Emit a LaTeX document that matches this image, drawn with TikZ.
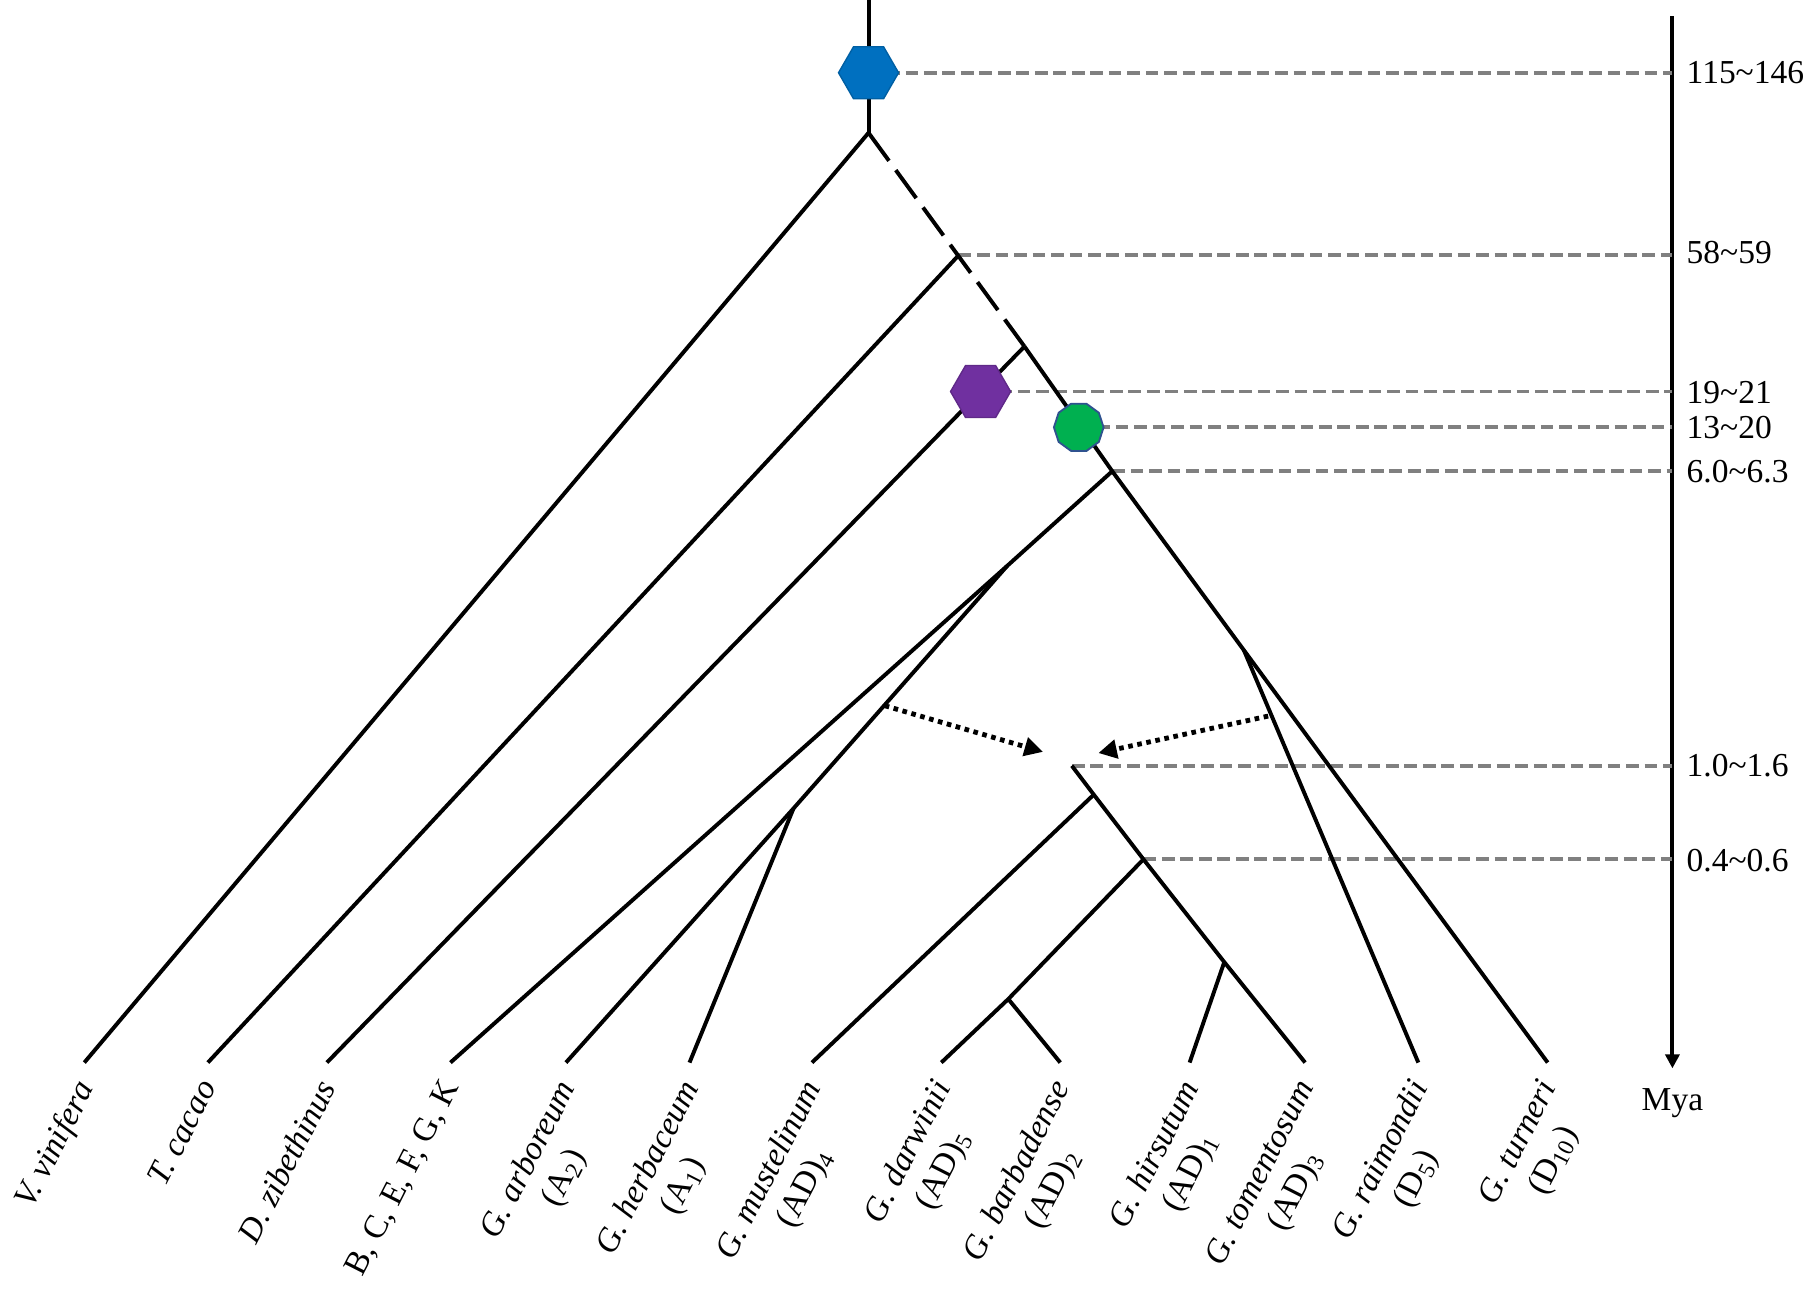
\documentclass[tikz,border=0pt]{standalone}
\usepackage{fontspec}
\setmainfont{Liberation Serif}
\usetikzlibrary{arrows.meta, shapes.geometric}
\definecolor{hexblue}{RGB}{0,112,192}
\definecolor{hexpurple}{RGB}{112,48,160}
\definecolor{dotgreen}{RGB}{0,176,80}
\definecolor{rimblue}{RGB}{47,82,143}
\definecolor{guidegray}{RGB}{128,128,128}

\tikzset{
    branch/.style={line width=1.7pt},
    stem/.style={branch, dash pattern=on 15pt off 5pt},
    guide/.style={guidegray, line width=1.6pt, dash pattern=on 5.5pt off 2.5pt},
    flow/.style={line width=2.1pt, dash pattern=on 2pt off 2pt, -{Triangle[length=8pt,width=8pt]}},
    tiplab/.style={rotate=63, anchor=north east, xshift=-6.5pt, yshift=2.5pt, inner sep=1pt, align=center},
    agelab/.style={anchor=west, inner sep=0pt},
    hexmark/.style={regular polygon, regular polygon sides=6, minimum size=26pt, inner sep=0pt, fill=#1, draw=#1!85!black, line width=0.6pt}
}

\begin{document}
\begin{tikzpicture}[x=0.5pt, y=-0.5pt, font=\fontsize{14.5}{17}\selectfont]
    \useasboundingbox (0,0) rectangle (1568,1122);

    % Inner nodes of the tree
    \coordinate (top) at (752,0);
    \coordinate (root) at (752,115);
    \coordinate (n1) at (830,221);
    \coordinate (n2) at (887,300);
    \coordinate (n3) at (963,408);
    \coordinate (nA) at (872,490);
    \coordinate (nA2) at (687,700);
    \coordinate (nD) at (1077,563);
    \coordinate (nAD) at (928,663);
    \coordinate (nM) at (947,688);
    \coordinate (nAD2) at (990,744);
    \coordinate (nDB) at (873,865);
    \coordinate (nHT) at (1060,833);

    % Tips
    \coordinate (vin) at (73,920);
    \coordinate (cac) at (180,920);
    \coordinate (zib) at (283,920);
    \coordinate (bce) at (390,920);
    \coordinate (arb) at (490,920);
    \coordinate (her) at (597,920);
    \coordinate (mus) at (703,920);
    \coordinate (dar) at (815,920);
    \coordinate (bar) at (918,920);
    \coordinate (hir) at (1030,920);
    \coordinate (tom) at (1130,920);
    \coordinate (rai) at (1228,920);
    \coordinate (tur) at (1340,920);

    % Time axis
    \coordinate (axtop) at (1448,14);
    \coordinate (axbot) at (1448,925);
    \draw[branch, -{Triangle[length=6pt,width=6pt]}] (axtop) -- (axbot);
    \node (mya) at (1448,955) {Mya};

    % Marker positions
    \path (752,63) coordinate (rootpos)
          (849,339) coordinate (zibpos)
          (934,370) coordinate (gospos);

    % Dashed guides to the axis
    \draw[guide] (rootpos) -- (rootpos -| axtop);
    \draw[guide] (n1) -- (n1 -| axtop);
    \draw[guide] (zibpos) -- (zibpos -| axtop);
    \draw[guide] (gospos) -- (gospos -| axtop);
    \draw[guide] (n3) -- (n3 -| axtop);
    \draw[guide] (nAD) -- (nAD -| axtop);
    \draw[guide] (nAD2) -- (nAD2 -| axtop);

    % Ages
    \node[agelab] (age1) at (1460,63) {115\textasciitilde146};
    \node[agelab] (age2) at (1460,219) {58\textasciitilde59};
    \node[agelab] (age3) at (1460,340) {19\textasciitilde21};
    \node[agelab] (age4) at (1460,370) {13\textasciitilde20};
    \node[agelab] (age5) at (1460,408) {6.0\textasciitilde6.3};
    \node[agelab] (age6) at (1460,663) {1.0\textasciitilde1.6};
    \node[agelab] (age7) at (1460,745) {0.4\textasciitilde0.6};

    % Branches
    \draw[branch] (top) -- (root);
    \draw[stem] (root) -- (n2);
    \draw[branch] (n2) -- (n3) -- (nD) -- (tur);
    \draw[branch] (root) -- (vin);
    \draw[branch] (n1) -- (cac);
    \draw[branch] (n2) -- (zib);
    \draw[branch] (n3) -- (nA) -- (bce);
    \draw[branch] (nA) -- (nA2) -- (arb);
    \draw[branch] (nA2) -- (her);
    \draw[branch] (nD) -- (rai);
    \draw[branch] (nAD) -- (nM) -- (nAD2) -- (nHT) -- (tom);
    \draw[branch] (nM) -- (mus);
    \draw[branch] (nAD2) -- (nDB) -- (dar);
    \draw[branch] (nDB) -- (bar);
    \draw[branch] (nHT) -- (hir);

    % Genome donors
    \coordinate (afrom) at (766,611);
    \coordinate (ato) at (903,651);
    \coordinate (dfrom) at (1098,620);
    \coordinate (dto) at (951,652);
    \draw[flow] (afrom) -- (ato);
    \draw[flow] (dfrom) -- (dto);

    % Markers
    \node[hexmark=hexblue] (rootmark) at (rootpos) {};
    \node[hexmark=hexpurple] (zibmark) at (zibpos) {};
    \node[regular polygon, regular polygon sides=10, minimum size=21.5pt, inner sep=0pt,
          fill=dotgreen, draw=rimblue, line width=0.8pt] (gosmark) at (gospos) {};

    % Tip labels
    \node[tiplab] (vinlab) at (vin) {\textit{V. vinifera}};
    \node[tiplab] (caclab) at (cac) {\textit{T. cacao}};
    \node[tiplab] (ziblab) at (zib) {\textit{D. zibethinus}};
    \node[tiplab] (bcelab) at (bce) {B, C, E, F, G, K};
    \node[tiplab] (arblab) at (arb) {\textit{G. arboreum}\\(A\textsubscript{2})};
    \node[tiplab] (herlab) at (her) {\textit{G. herbaceum}\\(A\textsubscript{1})};
    \node[tiplab] (muslab) at (mus) {\textit{G. mustelinum}\\(AD)\textsubscript{4}};
    \node[tiplab] (darlab) at (dar) {\textit{G. darwinii}\\(AD)\textsubscript{5}};
    \node[tiplab] (barlab) at (bar) {\textit{G. barbadense}\\(AD)\textsubscript{2}};
    \node[tiplab] (hirlab) at (hir) {\textit{G. hirsutum}\\(AD)\textsubscript{1}};
    \node[tiplab] (tomlab) at (tom) {\textit{G. tomentosum}\\(AD)\textsubscript{3}};
    \node[tiplab] (railab) at (rai) {\textit{G. raimondii}\\(D\textsubscript{5})};
    \node[tiplab] (turlab) at (tur) {\textit{G. turneri}\\(D\textsubscript{10})};
\end{tikzpicture}
\end{document}
